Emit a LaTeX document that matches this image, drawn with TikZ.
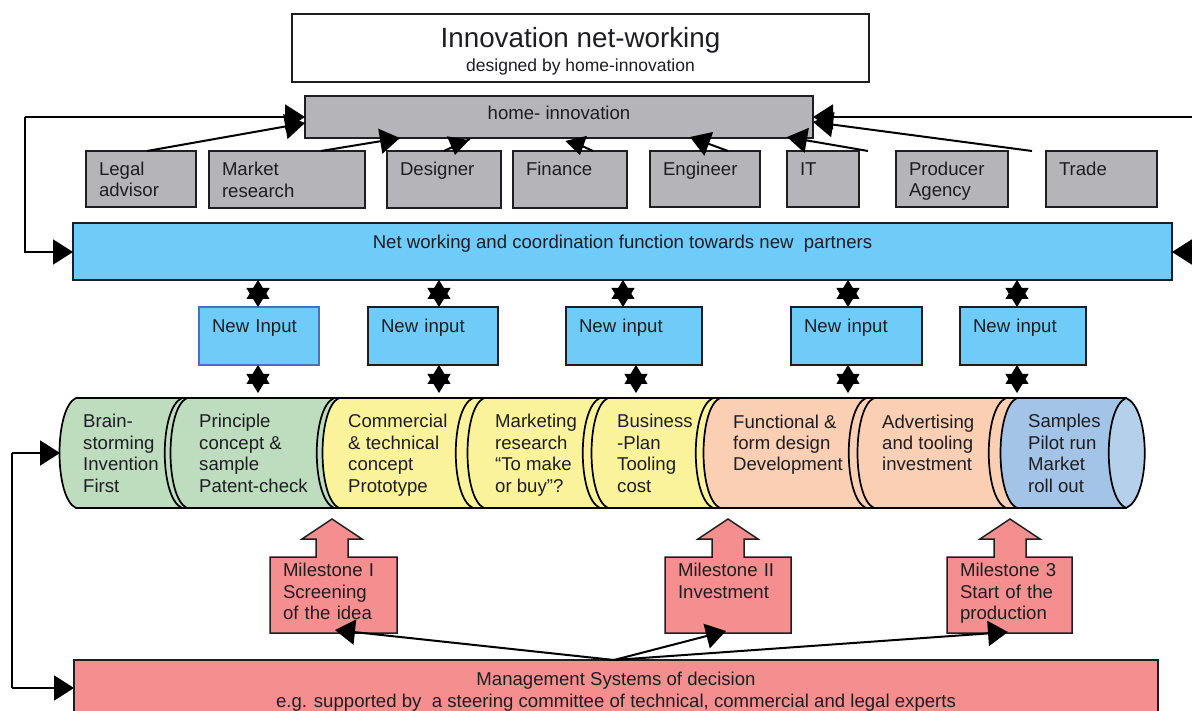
\documentclass[tikz,border=0pt]{standalone}
\usepackage{fontspec}
\setmainfont{Liberation Sans}
\usetikzlibrary{arrows.meta,calc}
\definecolor{inkc}{HTML}{1E1E22}
\definecolor{grayc}{HTML}{B4B4B9}
\definecolor{bluec}{HTML}{6FCBF8}
\definecolor{greenc}{HTML}{BEDDBF}
\definecolor{yellowc}{HTML}{FBF29C}
\definecolor{peachc}{HTML}{FBCFB4}
\definecolor{cylc}{HTML}{A3C4E6}
\definecolor{cylend}{HTML}{B5D0EA}
\definecolor{redc}{HTML}{F58F8F}
\definecolor{violetc}{HTML}{4B6FC4}
\newcommand{\bfont}{\fontsize{18.6}{21.4}\selectfont\lineskiplimit=-100pt\relax}
\newcommand{\st}{\rule[-5pt]{0pt}{24pt}}
\newcommand{\stb}{\rule[-13pt]{0pt}{22pt}}
\tikzset{
  x=1pt,y=-1pt,
  boxbase/.style={draw=inkc,line width=1.5pt,outer sep=0pt,inner ysep=0pt,inner xsep=13pt,align=left,text=inkc,font=\bfont},
  graybox/.style={boxbase,fill=grayc},
  bluebox/.style={boxbase,fill=bluec},
  centerbox/.style={draw=inkc,line width=1.5pt,outer sep=0pt,inner sep=0pt,align=center,text=inkc,font=\bfont},
  milebox/.style={boxbase,draw=none},
  segtext/.style={anchor=west,align=left,inner sep=0pt,text=inkc,font=\bfont},
  conn/.style={draw=black,line width=2pt,-{Triangle[length=20pt,width=25pt]}},
  shortconn/.style={draw=black,line width=1pt,-{Triangle[length=17pt,width=22pt]}},
  plainln/.style={draw=black,line width=2pt},
  starc/.style={draw=black,line width=1pt,{Triangle[length=19pt,width=23pt]}-{Triangle[length=19pt,width=23pt]}},
  segline/.style={draw=black,line width=1.7pt},
  mile/.style={draw=inkc,line width=1.5pt,fill=redc,line join=miter}
}
% style, name, x1, y1, x2, y2, text
\newcommand{\mybox}[7]{\node[#1,text width={(#5-#3-26)*1pt},minimum height={(#6-#4)*1pt}] (#2) at ({(#3+#5)/2},{(#4+#6)/2}) {#7};}
\newcommand{\cbox}[7]{\node[#1,minimum width={(#5-#3)*1pt},minimum height={(#6-#4)*1pt}] (#2) at ({(#3+#5)/2},{(#4+#6)/2}) {#7};}
% left top x, next left top x, inner arc top x, colour
\newcommand{\seg}[4]{%
  \path[segline,fill=#4] (#1,398) .. controls ({#1-22},408) and ({#1-22},498) .. (#1,508) -- (#2,508)
     .. controls ({#2+22},498) and ({#2+22},408) .. (#2,398) -- cycle;
  \draw[segline] (#3,398) .. controls ({#3-23},408) and ({#3-23},498) .. (#3,508);}
% x1, x2 (box), apex x
\newcommand{\milest}[3]{%
  \draw[mile] (#1,557) -- ({#3-16},557) -- ({#3-16},539) -- ({#3-30},539) -- (#3,519) -- ({#3+30},539) -- ({#3+16},539) -- ({#3+16},557) -- (#2,557) -- (#2,633) -- (#1,633) -- cycle;}
\begin{document}
\begin{tikzpicture}
\useasboundingbox (0,0) rectangle (1192,711);
% title
\cbox{centerbox,fill=white}{title}{292}{14}{869}{82}{{\fontsize{27.8}{30}\selectfont\rule{0pt}{27pt}Innovation net-working}\\[3pt]{\fontsize{17.5}{20}\selectfont designed by home-innovation}}
% home
\cbox{centerbox,fill=grayc,line width=2pt}{home}{305}{96}{813}{138}{\rule[-13pt]{0pt}{32pt}home- innovation}
% gray boxes
\mybox{graybox}{legal}{86}{151}{196}{207}{\st Legal\\advisor\st}
\mybox{graybox}{market}{209}{151}{365}{208}{\st Market\\research\st}
\mybox{graybox}{designer}{387}{151}{501}{208}{\st Designer\\\st}
\mybox{graybox}{finance}{513}{151}{627}{208}{\st Finance\\\st}
\mybox{graybox}{engineer}{650}{151}{760}{207}{\st Engineer\\\st}
\mybox{graybox}{it}{787}{151}{859}{207}{\st IT\\\st}
\mybox{graybox}{producer}{896}{151}{1008}{207}{\st Producer\\Agency\st}
\mybox{graybox}{trade}{1046}{151}{1157}{207}{\st Trade\\\st}
% net working
\cbox{centerbox,fill=bluec}{net}{73}{223}{1172}{280}{\rule[-5pt]{0pt}{26pt}Net working and coordination function towards new\ \ partners\\\st}
% inputs
\mybox{bluebox,draw=violetc}{inA}{199}{307}{319}{365}{\st New Input\\\st}
\mybox{bluebox}{inB}{368}{307}{498}{365}{\st New input\\\st}
\mybox{bluebox}{inC}{566}{307}{702}{365}{\st New input\\\st}
\mybox{bluebox}{inD}{791}{307}{922}{365}{\st New input\\\st}
\mybox{bluebox}{inE}{960}{307}{1086}{365}{\st New input\\\st}
% cylinder
\seg{76}{187}{182}{greenc}
\seg{187}{339}{334}{greenc}
\seg{339}{484}{473}{yellowc}
\seg{484}{608}{600}{yellowc}
\seg{608}{720}{713}{yellowc}
\seg{720}{874}{866}{peachc}
\seg{874}{1017}{1006}{peachc}
\path[segline,fill=cylc] (1017,398) .. controls (995,408) and (995,498) .. (1017,508) -- (1126,508) -- (1126,398) -- cycle;
\path[segline,fill=cylend] (1126,398) .. controls (1103,408) and (1103,498) .. (1126,508) .. controls (1151,498) and (1151,408) .. (1126,398) -- cycle;
\node[segtext] (s1) at (83,453) {\st Brain-\\storming\\Invention\\First\st};
\node[segtext] (s2) at (199,453) {\st Principle\\concept \&\\sample\\Patent-check\st};
\node[segtext] (s3) at (348,453) {\st Commercial\\\& technical\\concept\\Prototype\st};
\node[segtext] (s4) at (495,453) {\st Marketing\\research\\“To make\\or buy”?\st};
\node[segtext] (s5) at (617,453) {\st Business\\-Plan\\Tooling\\cost\st};
\node[segtext] (s6) at (733,442.5) {\st Functional \&\\form design\\Development\st};
\node[segtext] (s7) at (882,442.5) {\st Advertising\\and tooling\\investment\st};
\node[segtext] (s8) at (1028,453) {\st Samples\\Pilot run\\Market\\roll out\st};
% stars
\coordinate (ua) at (258,280); \coordinate (ub) at (439,280); \coordinate (uc) at (623,280); \coordinate (ud) at (848,280); \coordinate (ue) at (1017,280);
\coordinate (la) at (258,393); \coordinate (lb) at (439,393); \coordinate (lc) at (636,393); \coordinate (ld) at (848,393); \coordinate (le) at (1017,393);
\draw[starc] (ua) -- (ua |- inA.north);
\draw[starc] (ub) -- (ub |- inB.north);
\draw[starc] (uc) -- (uc |- inC.north);
\draw[starc] (ud) -- (ud |- inD.north);
\draw[starc] (ue) -- (ue |- inE.north);
\draw[starc] (la |- inA.south) -- (la);
\draw[starc] (lb |- inB.south) -- (lb);
\draw[starc] (lc |- inC.south) -- (lc);
\draw[starc] (ld |- inD.south) -- (ld);
\draw[starc] (le |- inE.south) -- (le);
% milestones
\milest{270}{397}{332}
\milest{665}{791}{728}
\milest{947}{1072}{1010}
\mybox{milebox}{m1}{270}{557}{397}{633}{\st Milestone I\\Screening\\of the idea\stb}
\mybox{milebox}{m2}{665}{557}{791}{633}{\st Milestone II\\Investment\\\stb}
\mybox{milebox}{m3}{947}{557}{1072}{633}{\st Milestone 3\\Start of the\\production\stb}
% management
\cbox{centerbox,fill=redc}{mgmt}{74}{660}{1158}{719}{\st Management Systems of decision\\e.g. supported by\ \ a steering committee of technical, commercial and legal experts\st}
% free ends
\coordinate (legalEnd) at (147,151);
\coordinate (homeL) at (305,123);
\coordinate (marketEnd) at (321,151);
\coordinate (homeM) at (400,138);
\coordinate (designTop) at (458,138);
\coordinate (designTip) at (455,155);
\coordinate (stubA) at (444,151);
\coordinate (stubB) at (470,139);
\coordinate (finTop) at (576,138);
\coordinate (finTip) at (580,155);
\coordinate (stubC) at (593,151);
\coordinate (stubD) at (582,146);
\coordinate (engEnd) at (728,151);
\coordinate (homeE) at (690,137);
\coordinate (itEnd) at (868,151);
\coordinate (homeI) at (787,137);
\coordinate (prodEnd) at (1032,151);
\coordinate (homeP) at (813,122);
\coordinate (lineL) at (25,117);
\coordinate (lineR) at (1192,117);
\coordinate (lineRb) at (1192,252);
\coordinate (netL) at (25,252);
\coordinate (feedA) at (12,453);
\coordinate (feedTip) at (60,453);
\coordinate (feedB) at (12,688);
\coordinate (mgmtTop) at (614,660);
\coordinate (t1) at (335,630);
\coordinate (t2) at (726,631);
\coordinate (t3) at (1008,632);
% connectors
\draw[conn] (legalEnd) -- (homeL);
\draw[conn] (marketEnd) -- (homeM);
\draw[plainln] (stubA) -- (stubB);
\draw[shortconn] (designTop) -- (designTip);
\draw[shortconn] (finTop) -- (finTip);
\draw[plainln] (stubC) -- (stubD);
\draw[conn] (engEnd) -- (homeE);
\draw[conn] (itEnd) -- (homeI);
\draw[conn] (prodEnd) -- (homeP);
\draw[conn] (lineL) -- (lineL -| home.west);
\draw[conn] (lineL) -- (netL) -- (net.west |- netL);
\draw[conn] (lineR) -- (lineR -| home.east);
\draw[conn] (lineRb) -- (net.east |- lineRb);
\draw[conn] (feedA) -- (feedTip);
\draw[plainln] (feedA) -- (feedB);
\draw[conn] (feedB) -- (mgmt.west |- feedB);
\draw[conn] (mgmtTop) -- (t1);
\draw[conn] (mgmtTop) -- (t2);
\draw[conn] (mgmtTop) -- (t3);
\end{tikzpicture}
\end{document}
